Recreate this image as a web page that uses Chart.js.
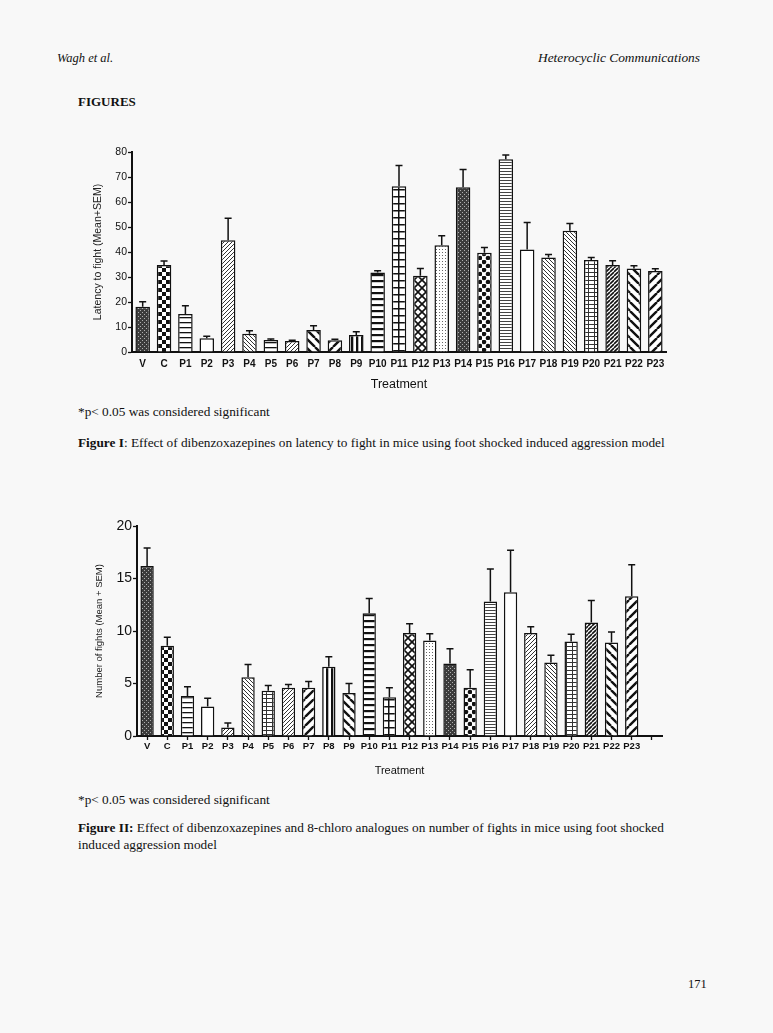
<!DOCTYPE html>
<html>
<head>
<meta charset="utf-8">
<script src="https://cdn.jsdelivr.net/npm/chart.js@4.4.1/dist/chart.umd.min.js"></script>
<style>
  html, body { margin: 0; padding: 0; background: #f8f8f8; }
  body { width: 773px; height: 1033px; position: relative; overflow: hidden; font-family: "Liberation Serif", "DejaVu Serif", serif; color: #111; }
  .t { position: absolute; white-space: nowrap; font-size: 13.3px; line-height: 1; }
  .it { font-style: italic; }
  b { font-weight: bold; }
  canvas { position: absolute; }
</style>
</head>
<body>
<div class="t it" style="left:57px; top:52px; font-size:12.5px;">Wagh et al.</div>
<div class="t it" style="right:73px; top:51px; font-size:13.4px;">Heterocyclic Communications</div>
<div class="t" style="left:78px; top:95px; font-size:13px;"><b>FIGURES</b></div>

<div id="box1" style="position:absolute; left:90px; top:140px; width:590px; height:254px;"><canvas id="chart1"></canvas></div>

<div class="t" style="left:78px; top:405px;">*p&lt; 0.05 was considered significant</div>
<div class="t" style="left:78px; top:436px;"><b>Figure I</b>: Effect of dibenzoxazepines on latency to fight in mice using foot shocked induced aggression model</div>

<div id="box2" style="position:absolute; left:80px; top:510px; width:600px; height:270px;"><canvas id="chart2"></canvas></div>

<div class="t" style="left:78px; top:793px;">*p&lt; 0.05 was considered significant</div>
<div class="t" style="left:78px; top:821px;"><b>Figure II:</b> Effect of dibenzoxazepines and 8-chloro analogues on number of fights in mice using foot shocked</div>
<div class="t" style="left:78px; top:838px;">induced aggression model</div>

<div class="t" style="left:688px; top:978px; font-size:12.5px;">171</div>

<script>
// treatments
const treatments = ['V', 'C', 'P1', 'P2', 'P3', 'P4', 'P5', 'P6', 'P7', 'P8', 'P9', 'P10', 'P11',
  'P12', 'P13', 'P14', 'P15', 'P16', 'P17', 'P18', 'P19', 'P20', 'P21', 'P22', 'P23'];

// Figure I: latency to fight (mean, SEM)
const latencyMean = [18.1, 34.8, 15.2, 5.5, 44.7, 7.3, 4.8, 4.4, 8.8, 4.7, 6.8, 31.8, 66.3,
  30.5, 42.7, 65.9, 39.7, 77.1, 41.0, 37.8, 48.5, 36.8, 34.8, 33.4, 32.4];
const latencySem = [2.0, 1.6, 3.3, 0.8, 8.8, 1.2, 0.4, 0.3, 1.7, 0.4, 1.3, 0.7, 8.3,
  2.9, 3.8, 7.1, 2.1, 1.7, 10.8, 1.2, 2.9, 1.0, 1.7, 1.1, 0.9];
const latencyTicks = [0, 10, 20, 30, 40, 50, 60, 70, 80];

// Figure II: number of fights (mean, SEM); last slot is an empty category
const fightCats = treatments.concat(['']);
const fightsMean = [16.2, 8.6, 3.8, 2.8, 0.8, 5.6, 4.3, 4.6, 4.6, 6.6, 4.1, 11.7, 3.7,
  9.8, 9.1, 6.9, 4.6, 12.8, 13.7, 9.8, 7.0, 9.0, 10.8, 8.9, 13.3, null];
const fightsSem = [1.7, 0.8, 0.9, 0.8, 0.45, 1.2, 0.5, 0.3, 0.6, 0.95, 0.9, 1.4, 0.9,
  0.9, 0.65, 1.4, 1.7, 3.1, 4.0, 0.6, 0.7, 0.7, 2.1, 1.0, 3.0, null];
const fightTicks = [0, 5, 10, 15, 20];

// fill patterns per bar (style only)
const fills1 = ['dense', 'checker', 'hlines', 'none', 'diagFine', 'diagBFine', 'hlines', 'diagFine',
  'diagBWide', 'diagWide', 'vlines', 'hthick', 'grid', 'xhatch', 'dots', 'dense', 'blobs', 'hfine',
  'none', 'diagBFine', 'diagBFine', 'gridFine', 'diagDark', 'diagBWide', 'diagWide'];
const fills2 = ['dense', 'checker', 'hlines', 'none', 'diagFine', 'diagBFine', 'gridFine', 'diagFine',
  'diagWide', 'vlines', 'diagBWide', 'hthick', 'grid', 'xhatch', 'dots', 'dense', 'blobs', 'hfine',
  'none', 'diagFine', 'diagBFine', 'gridFine', 'diagDark', 'diagBWide', 'diagWide', 'none'];

function tile(w, h, draw) {
  const c = document.createElement('canvas');
  c.width = w; c.height = h;
  const g = c.getContext('2d');
  g.fillStyle = '#fff';
  g.fillRect(0, 0, w, h);
  g.strokeStyle = '#111';
  g.fillStyle = '#111';
  draw(g, w, h);
  return g.createPattern(c, 'repeat');
}

function diag(g, s, back) {
  g.beginPath();
  for (let k = -1; k <= 1; k++) {
    if (back) { g.moveTo(k * s, 0); g.lineTo(k * s + s, s); }
    else { g.moveTo(k * s, s); g.lineTo(k * s + s, 0); }
  }
  g.stroke();
}

const patterns = {
  none: '#fff',
  dense: tile(4, 4, (g) => {
    g.fillStyle = '#3c3c3c'; g.fillRect(0, 0, 4, 4);
    g.fillStyle = '#b0b0b0'; g.fillRect(0, 0, 1, 1); g.fillRect(2, 2, 1, 1);
  }),
  checker: tile(8, 8, (g) => { g.fillRect(0, 0, 4, 4); g.fillRect(4, 4, 4, 4); }),
  blobs: tile(8, 8, (g) => {
    g.beginPath(); g.arc(2, 2, 2.3, 0, Math.PI * 2); g.fill();
    g.beginPath(); g.arc(6, 6, 2.3, 0, Math.PI * 2); g.fill();
  }),
  hlines: tile(5, 5, (g) => { g.fillRect(0, 2, 5, 1.3); }),
  hthick: tile(6, 6, (g) => { g.fillRect(0, 2, 6, 2.2); }),
  hfine: tile(3, 3, (g) => { g.fillStyle = '#444'; g.fillRect(0, 1, 3, 1); }),
  vlines: tile(5, 5, (g) => { g.fillRect(1, 0, 2.3, 5); }),
  grid: tile(7, 7, (g) => { g.fillRect(0, 0, 7, 1.5); g.fillRect(0, 0, 1.5, 7); }),
  gridFine: tile(6, 4, (g) => { g.fillStyle = '#333'; g.fillRect(0, 0, 6, 1); g.fillRect(0, 0, 1, 4); }),
  diagFine: tile(4, 4, (g) => { g.strokeStyle = '#333'; g.lineWidth = 1; diag(g, 4, false); }),
  diagBFine: tile(4, 4, (g) => { g.strokeStyle = '#333'; g.lineWidth = 1; diag(g, 4, true); }),
  diagDark: tile(4, 4, (g) => { g.lineWidth = 1.6; diag(g, 4, false); }),
  diagWide: tile(9, 9, (g) => { g.lineWidth = 2.4; diag(g, 9, false); }),
  diagBWide: tile(9, 9, (g) => { g.lineWidth = 2.4; diag(g, 9, true); }),
  xhatch: tile(8, 8, (g) => { g.lineWidth = 1.6; diag(g, 8, false); diag(g, 8, true); }),
  dots: tile(3, 3, (g) => { g.fillStyle = '#666'; g.fillRect(1, 1, 1, 1); })
};

function errorBars(sem) {
  return {
    id: 'errorBars',
    afterDatasetsDraw(chart) {
      const ctx = chart.ctx;
      const y = chart.scales.y;
      const values = chart.data.datasets[0].data;
      ctx.save();
      ctx.strokeStyle = '#111';
      ctx.lineWidth = 1.5;
      chart.getDatasetMeta(0).data.forEach((bar, i) => {
        if (values[i] == null || sem[i] == null) return;
        const top = y.getPixelForValue(values[i] + sem[i]);
        ctx.beginPath();
        ctx.moveTo(bar.x, bar.y);
        ctx.lineTo(bar.x, top);
        ctx.moveTo(bar.x - 3.5, top);
        ctx.lineTo(bar.x + 3.5, top);
        ctx.stroke();
      });
      ctx.restore();
    }
  };
}

function makeChart(id, cfg) {
  return new Chart(document.getElementById(id), {
    type: 'bar',
    data: {
      labels: cfg.labels,
      datasets: [{
        data: cfg.values,
        backgroundColor: cfg.fills.map((f) => patterns[f]),
        borderColor: '#111',
        borderWidth: 1.5,
        barPercentage: cfg.barPct,
        categoryPercentage: 1
      }]
    },
    options: {
      responsive: true,
      maintainAspectRatio: false,
      animation: false,
      layout: { padding: cfg.padding },
      plugins: { legend: { display: false }, tooltip: { enabled: false } },
      scales: {
        x: {
          grid: { display: cfg.xTicks, drawOnChartArea: false, offset: false, tickLength: 4, tickColor: '#111', tickWidth: 1.3 },
          border: { display: true, color: '#111', width: 2 },
          ticks: { color: '#111', padding: cfg.xTicks ? 1 : 2, maxRotation: 0, autoSkip: false,
            font: { family: 'Liberation Sans', size: cfg.xTickSize, weight: 'bold' } },
          title: { display: true, text: 'Treatment', color: '#111', padding: { top: 4, bottom: 2 },
            font: { family: 'Liberation Sans', size: cfg.xTitleSize, weight: cfg.xTitleWeight } },
          afterFit: (s) => { s.height = cfg.xHeight; }
        },
        y: {
          min: 0,
          max: cfg.max,
          afterBuildTicks: (s) => { s.ticks = cfg.ticks.map((v) => ({ value: v })); },
          grid: { drawOnChartArea: false, tickLength: 4, tickColor: '#111', tickWidth: 1.3 },
          border: { display: true, color: '#111', width: 2 },
          ticks: { color: '#111', padding: 1, font: { family: 'Liberation Sans', size: cfg.yTickSize } },
          title: { display: true, text: cfg.yTitle, color: '#222', padding: { top: 0, bottom: 4 },
            font: { family: 'Liberation Sans', size: cfg.yTitleSize } },
          afterFit: (s) => { s.width = cfg.yWidth; }
        }
      }
    },
    plugins: [errorBars(cfg.sem)]
  });
}

makeChart('chart1', {
  labels: treatments, values: latencyMean, sem: latencySem, fills: fills1,
  max: 80, ticks: latencyTicks, barPct: 0.68, xTicks: false,
  padding: { left: 2, top: 12, right: 14, bottom: 0 },
  xHeight: 42, yWidth: 40, yTickSize: 10.5, yTitleSize: 10.5, xTickSize: 10, xTitleSize: 12.5, xTitleWeight: 'normal',
  yTitle: 'Latency to fight (Mean+SEM)'
});

makeChart('chart2', {
  labels: fightCats, values: fightsMean, sem: fightsSem, fills: fills2,
  max: 20, ticks: fightTicks, barPct: 0.66, xTicks: true,
  padding: { left: 14, top: 16, right: 18, bottom: 0 },
  xHeight: 44, yWidth: 43, yTickSize: 14, yTitleSize: 9.5, xTickSize: 9.5, xTitleSize: 11, xTitleWeight: 'normal',
  yTitle: 'Number of fights (Mean + SEM)'
});
</script>
</body>
</html>
